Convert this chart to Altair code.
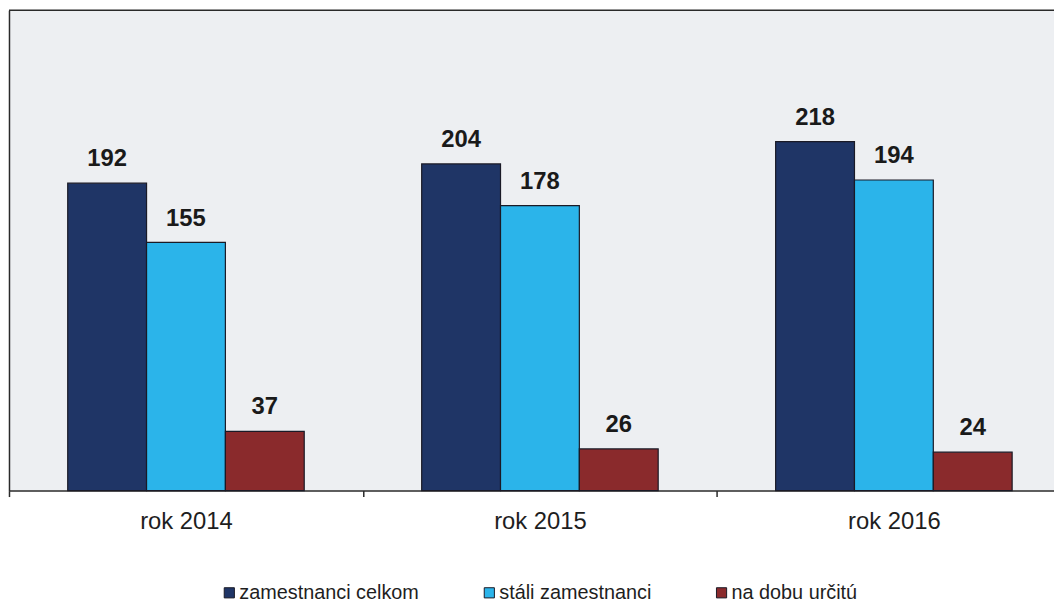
import altair as alt
import pandas as pd

years = ["rok 2014", "rok 2015", "rok 2016"]
series = ["zamestnanci celkom", "stáli zamestnanci", "na dobu určitú"]
celkom = [192, 204, 218]
stali = [155, 178, 194]
urcitu = [37, 26, 24]
colors = ["#1f3566", "#2bb4ea", "#8a2a2c"]

rows = []
for i, y in enumerate(years):
    for s, vals in zip(series, [celkom, stali, urcitu]):
        rows.append({"rok": y, "serie": s, "hodnota": vals[i]})
df = pd.DataFrame(rows)

FONT = "Liberation Sans"

x = alt.X("rok:N", sort=years, scale=alt.Scale(paddingInner=0, paddingOuter=0),
          axis=alt.Axis(title=None, labelAngle=0, labelFontSize=24, labelFont=FONT,
                        labelColor="#1e1e1e", tickBand="extent", tickSize=6,
                        domainColor="#2a2a2a", tickColor="#2a2a2a", domainWidth=1.5,
                        tickWidth=1.5, labelPadding=13, grid=False))
xo = alt.XOffset("serie:N", sort=series, scale=alt.Scale(paddingInner=0, paddingOuter=0.745))
y = alt.Y("hodnota:Q", scale=alt.Scale(domain=[0, 300], nice=False),
          axis=alt.Axis(title=None, labels=False, ticks=False, grid=False,
                        domainColor="#2a2a2a", domainWidth=1.5))

bars = alt.Chart(df).mark_bar(stroke="#1a1a26", strokeWidth=1.2).encode(
    x=x, xOffset=xo, y=y,
    color=alt.Color("serie:N", sort=series,
                    scale=alt.Scale(domain=series, range=colors),
                    legend=alt.Legend(title=None, orient="none", legendX=212, legendY=577,
                                      direction="horizontal", symbolType="square",
                                      symbolSize=105, symbolStrokeColor="#1a1a26",
                                      symbolStrokeWidth=1, labelFontSize=20,
                                      labelFont=FONT, labelColor="#1e1e1e", labelLimit=0,
                                      columnPadding=60, labelOffset=0, padding=0)),
)

labels = alt.Chart(df).mark_text(dy=-17, baseline="alphabetic", fontWeight="bold",
                                 fontSize=24, font=FONT, color="#1a1a1a").encode(
    x=x, xOffset=xo, y=y, text="hodnota:Q"
)

top = alt.Chart(pd.DataFrame({"v": [300]})).mark_rule(color="#2a2a2a", strokeWidth=1.5).encode(
    y=alt.Y("v:Q")
)

chart = alt.layer(bars, labels, top).properties(
    width=1070, height=484,
    autosize=alt.AutoSizeParams(type="none"),
    padding={"left": 1, "top": 0, "right": -17, "bottom": 113},
    background="white",
).configure_view(fill="#edeff2", stroke=None)

chart.save("out.html", embed_options={"renderer": "svg", "actions": False})
